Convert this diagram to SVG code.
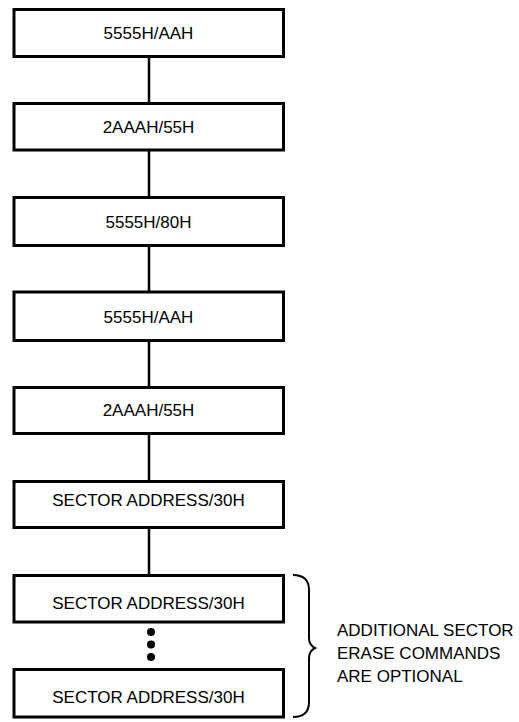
<svg xmlns="http://www.w3.org/2000/svg" width="519" height="722" viewBox="0 0 519 722">
<style>
.box{fill:#fff;stroke:#000;stroke-width:3}
.lbl{font-family:"Liberation Sans",Arial,sans-serif;font-size:17px;fill:#000;text-anchor:middle}
.note{font-family:"Liberation Sans",Arial,sans-serif;font-size:17px;fill:#000}
.conn line{stroke:#000;stroke-width:2.5}
</style>
<rect width="519" height="722" fill="#fff"/>
<g id="connectors" class="conn">
<line x1="149" y1="56.5" x2="149" y2="103.5"/>
<line x1="149" y1="150" x2="149" y2="197.5"/>
<line x1="149" y1="245.5" x2="149" y2="292"/>
<line x1="149" y1="340.5" x2="149" y2="387.5"/>
<line x1="149" y1="433.5" x2="149" y2="481.5"/>
<line x1="149" y1="527.5" x2="149" y2="575.5"/>
</g>
<g id="n1"><rect class="box" x="14" y="9.5" width="269.5" height="47"/><text class="lbl" x="148.5" y="39">5555H/AAH</text></g>
<g id="n2"><rect class="box" x="14" y="103.5" width="269.5" height="46.5"/><text class="lbl" x="148.5" y="133">2AAAH/55H</text></g>
<g id="n3"><rect class="box" x="14" y="197.5" width="269.5" height="48"/><text class="lbl" x="148.5" y="228">5555H/80H</text></g>
<g id="n4"><rect class="box" x="14" y="292" width="269.5" height="48.5"/><text class="lbl" x="148.5" y="322.5">5555H/AAH</text></g>
<g id="n5"><rect class="box" x="14" y="387.5" width="269.5" height="46"/><text class="lbl" x="148.5" y="416">2AAAH/55H</text></g>
<g id="n6"><rect class="box" x="14" y="481.5" width="269.5" height="46"/><text class="lbl" x="148.5" y="506">SECTOR ADDRESS/30H</text></g>
<g id="n7"><rect class="box" x="14" y="575.5" width="269.5" height="46.5"/><text class="lbl" x="148.5" y="609">SECTOR ADDRESS/30H</text></g>
<g id="dots"><circle cx="151" cy="632" r="4"/><circle cx="151" cy="644.5" r="4"/><circle cx="151" cy="657" r="4"/></g>
<g id="n8"><rect class="box" x="14" y="669.5" width="269.5" height="47.5"/><text class="lbl" x="148.5" y="703">SECTOR ADDRESS/30H</text></g>
<g id="brace">
<path d="M293,575 Q309,575 309,590 L309,638 Q309,645 315,648 Q309,651 309,658 L309,702 Q309,717 293,717" fill="none" stroke="#000" stroke-width="2"/>
</g>
<g id="note">
<text class="note" x="337" y="636">ADDITIONAL SECTOR</text>
<text class="note" x="337" y="659">ERASE COMMANDS</text>
<text class="note" x="337" y="682">ARE OPTIONAL</text>
</g>
</svg>
